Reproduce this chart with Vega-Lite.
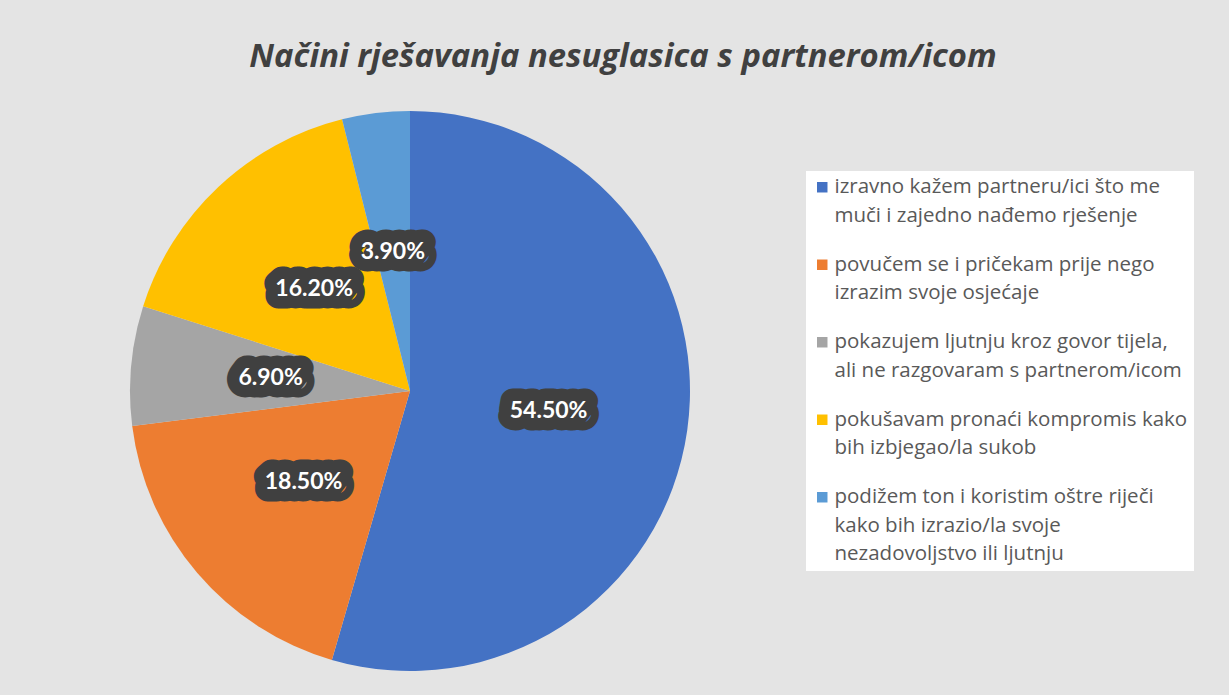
{
  "$schema": "https://vega.github.io/schema/vega-lite/v6.json",
  "width": 560,
  "height": 560,
  "autosize": {"type": "none"},
  "padding": {"left": 130, "top": 111, "right": 539, "bottom": 24},
  "background": "#e4e4e4",
  "title": {
    "text": "Načini rješavanja nesuglasica s partnerom/icom",
    "font": "Open Sans",
    "fontSize": 32.8,
    "fontStyle": "italic",
    "fontWeight": "bold",
    "color": "#404040",
    "anchor": "middle",
    "dx": 213,
    "offset": 37
  },
  "data": {
    "values": [
      {"category": "izravno kažem partneru/ici što me|muči i zajedno nađemo rješenje", "pct": 0.545, "order": 1},
      {"category": "povučem se i pričekam prije nego|izrazim svoje osjećaje", "pct": 0.185, "order": 2},
      {"category": "pokazujem ljutnju kroz govor tijela,|ali ne razgovaram s partnerom/icom", "pct": 0.069, "order": 3},
      {"category": "pokušavam pronaći kompromis kako|bih izbjegao/la sukob", "pct": 0.162, "order": 4},
      {"category": " podižem ton i koristim oštre riječi|kako bih izrazio/la svoje|nezadovoljstvo ili ljutnju", "pct": 0.039, "order": 5}
    ]
  },
  "encoding": {
    "theta": {"field": "pct", "type": "quantitative", "stack": true},
    "order": {"field": "order", "type": "quantitative"}
  },
  "layer": [
    {
      "mark": {"type": "arc", "outerRadius": 280},
      "encoding": {
        "color": {
          "field": "category",
          "type": "nominal",
          "scale": {
            "domain": [
              "izravno kažem partneru/ici što me|muči i zajedno nađemo rješenje",
              "povučem se i pričekam prije nego|izrazim svoje osjećaje",
              "pokazujem ljutnju kroz govor tijela,|ali ne razgovaram s partnerom/icom",
              "pokušavam pronaći kompromis kako|bih izbjegao/la sukob",
              " podižem ton i koristim oštre riječi|kako bih izrazio/la svoje|nezadovoljstvo ili ljutnju"
            ],
            "range": ["#4472C4", "#ED7D31", "#A5A5A5", "#FFC000", "#5B9BD5"]
          },
          "legend": {
            "orient": "none",
            "legendX": 676,
            "legendY": 60,
            "title": null,
            "fillColor": "#ffffff",
            "padding": 6,
            "symbolType": "square",
            "symbolSize": 110,
            "symbolStrokeWidth": 0,
            "labelFont": "Open Sans",
            "labelFontSize": 20.5,
            "labelColor": "#595959",
            "labelLimit": 420,
            "labelOffset": 2,
            "rowPadding": 27.5,
            "labelExpr": "split(datum.label, '|')"
          }
        }
      }
    },
    {
      "mark": {
        "type": "text",
        "radius": 140,
        "font": "Lato",
        "fontSize": 23,
        "fontWeight": "bold",
        "fill": "#404040",
        "stroke": "#404040",
        "strokeWidth": 25,
        "strokeJoin": "round"
      },
      "encoding": {
        "text": {"field": "pct", "type": "quantitative", "format": ".2%"}
      }
    },
    {
      "mark": {
        "type": "text",
        "radius": 140,
        "font": "Lato",
        "fontSize": 23,
        "fontWeight": "bold",
        "fill": "#ffffff"
      },
      "encoding": {
        "text": {"field": "pct", "type": "quantitative", "format": ".2%"}
      }
    }
  ],
  "config": {
    "view": {"stroke": null},
    "style": {"guide-label": {"lineHeight": 28.5}}
  }
}
